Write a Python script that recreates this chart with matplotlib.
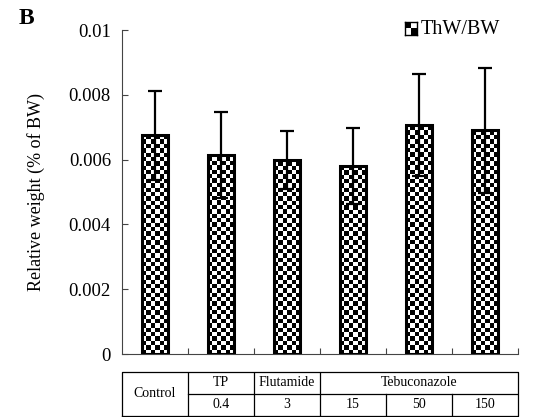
import numpy as np
import matplotlib
matplotlib.use('Agg')
import matplotlib.pyplot as plt

plt.rcParams['font.family'] = ['Liberation Serif', 'DejaVu Serif']

# Data
groups = ['Control', 'TP', 'Flutamide', 'Tebuconazole', 'Tebuconazole', 'Tebuconazole']
doses = ['', '0.4', '3', '15', '50', '150']
means = [0.00675, 0.00615, 0.00598, 0.00580, 0.00708, 0.00690]
errors = [0.00137, 0.00132, 0.00090, 0.00118, 0.00157, 0.00192]
y_ticks = [0, 0.002, 0.004, 0.006, 0.008, 0.01]
y_tick_labels = ['0', '0.002', '0.004', '0.006', '0.008', '0.01']

fig = plt.figure(figsize=(5.34, 4.17), dpi=100)
ax = fig.add_axes([0.2285, 0.151, 0.7415, 0.777])

x = np.arange(len(means)) + 0.5
width = 0.4
bars = ax.bar(x, means, width, facecolor='none', edgecolor='black', linewidth=2.2, zorder=3)

# checkerboard fill inside each bar
cell = 0.000135
for bar, v in zip(bars, means):
    ny = int(np.ceil(v / cell))
    nx = 6
    checker = np.indices((ny, nx)).sum(axis=0) % 2
    x0 = bar.get_x()
    im = ax.imshow(checker, cmap='gray', interpolation='nearest', origin='lower',
                   extent=[x0, x0 + width, 0, ny * cell], aspect='auto', zorder=2)
    im.set_clip_path(bar)

ax.errorbar(x, means, yerr=errors, fmt='none', ecolor='black', elinewidth=1.6,
            capsize=5, capthick=1.6, zorder=4)

ax.set_xlim(0, 6)
ax.set_ylim(0, 0.01)
ax.set_yticks(y_ticks)
ax.set_yticklabels(y_tick_labels, fontsize=13.5)
ax.set_xticks(np.arange(1, 7))
ax.set_xticklabels([])
ax.tick_params(axis='both', direction='in', length=4, color='#444444')
ax.tick_params(axis='y', pad=8)
ax.spines['top'].set_visible(False)
ax.spines['right'].set_visible(False)
for s in ['left', 'bottom']:
    ax.spines[s].set_color('#444444')
ax.set_ylabel('Relative weight (% of BW)', fontsize=13, labelpad=17)

# panel letter and legend
fig.text(0.034, 0.955, 'B', fontsize=17, fontweight='bold', va='center')
fig.text(0.787, 0.930, 'ThW/BW', fontsize=14.5, va='center')
icon = fig.add_axes([0.758, 0.916, 0.0225, 0.031])
icon.imshow(np.array([[0, 1], [1, 0]]), cmap='gray', interpolation='nearest', aspect='auto')
icon.set_xticks([])
icon.set_yticks([])
for s in icon.spines.values():
    s.set_linewidth(1)

# treatment table under the axis
tab = fig.add_axes([0.2285, 0.003, 0.7415, 0.105])
tab.set_xlim(0, 6)
tab.set_ylim(0, 2)
tab.axis('off')
lw = 0.9
tab.plot([0, 6, 6, 0, 0], [0, 0, 2, 2, 0], color='black', lw=lw, clip_on=False)
tab.plot([1, 6], [1, 1], color='black', lw=lw)
for xv in [1, 2, 3]:
    tab.plot([xv, xv], [0, 2], color='black', lw=lw)
for xv in [4, 5]:
    tab.plot([xv, xv], [0, 1], color='black', lw=lw)
fs = 10
tab.text(0.5, 1, groups[0], ha='center', va='center', fontsize=fs)
tab.text(1.5, 1.5, groups[1], ha='center', va='center', fontsize=fs)
tab.text(2.5, 1.5, groups[2], ha='center', va='center', fontsize=fs)
tab.text(4.5, 1.5, groups[3], ha='center', va='center', fontsize=fs)
for i in range(1, 6):
    tab.text(i + 0.5, 0.5, doses[i], ha='center', va='center', fontsize=fs)

fig.savefig('out.png', dpi=100)
